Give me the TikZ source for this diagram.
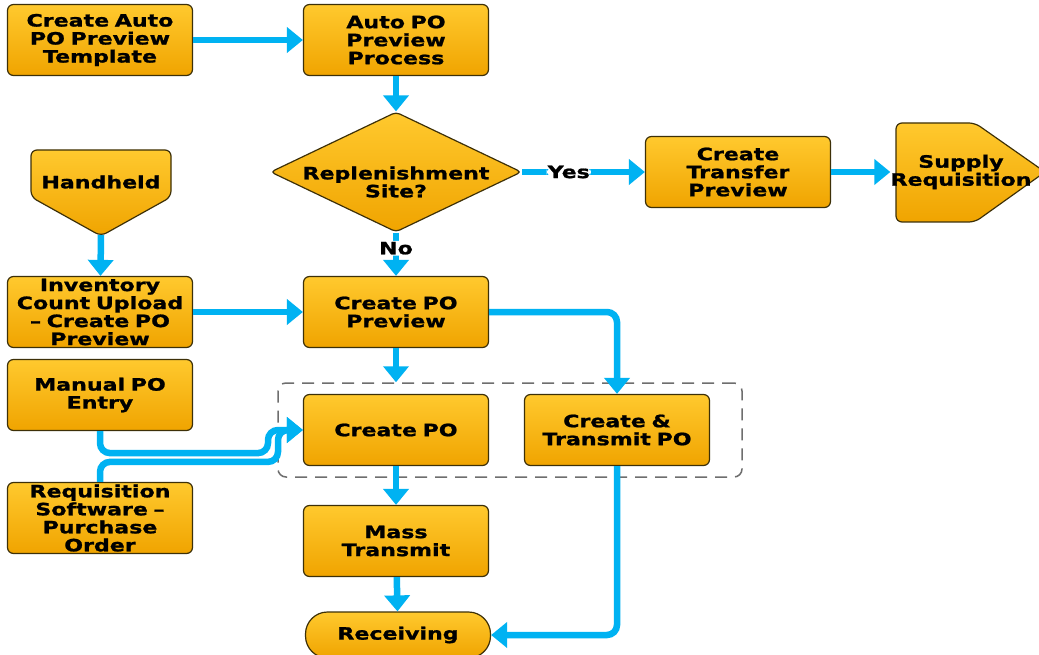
\documentclass[tikz,border=0pt]{standalone}
\usepackage{fontspec}
\setmainfont{DejaVu Sans}[FakeStretch=1.3, BoldFeatures={FakeBold=1.2}]
\usepackage{tikz}
\usetikzlibrary{shapes}
\usetikzlibrary{positioning}
\usetikzlibrary{arrows.meta}

\definecolor{boxtop}{HTML}{FFC92E}
\definecolor{boxbot}{HTML}{F0A400}
\definecolor{boxedge}{HTML}{3D3008}
\definecolor{flow}{HTML}{00B2F2}
\definecolor{grpedge}{HTML}{6E6E6E}

\newcommand{\boxfont}{\fontsize{17}{18}\selectfont\bfseries}

\tikzset{
  procbox/.style={draw=boxedge, line width=1.2pt, rounded corners=6pt,
    top color=boxtop, bottom color=boxbot, minimum width=185pt,
    minimum height=71pt, text width=182pt, align=center, inner sep=0pt,
    font=\boxfont},
  shapefill/.style={draw=boxedge, line width=1.2pt, rounded corners=6pt,
    top color=boxtop, bottom color=boxbot},
  flowline/.style={draw=flow, line width=6.5pt, rounded corners=10pt,
    -{Triangle[length=16pt,width=25pt]}},
  answer/.style={fill=white, inner sep=1pt, font=\boxfont},
}

\begin{document}
\begin{tikzpicture}[x=1pt, y=-1pt]
    \fill[white] (0,0) rectangle (1039,655);
    \useasboundingbox (0,0) rectangle (1039,655);

    % dashed group round the two create nodes
    \node (grp) at (510,430) [draw=grpedge, line width=1.5pt, rounded corners=8pt,
        dash pattern=on 12pt off 8pt, minimum width=464pt, minimum height=94pt] {};

    \node (capt) at (100,40) [procbox] {Create Auto\\PO Preview\\Template};
    \node (appp) at (396,40) [procbox] {Auto PO\\Preview\\Process};
    \node (rep) at (396,172) [shapefill, rounded corners=4pt, diamond,
        minimum width=251pt, minimum height=120pt, inner sep=0pt,
        label={[align=center, font=\boxfont, yshift=-10pt]center:Replenishment\\Site?}] {};
    \node (ctp) at (738,172) [procbox] {Create\\Transfer\\Preview};

    % pentagons drawn as paths, text on top
    \path[shapefill] (896,123) -- (975,123) -- (1045,172) -- (975,222) -- (896,222) -- cycle;
    \node (supply) at (961,172) [font=\boxfont, align=center, inner sep=0pt,
        minimum width=130pt, minimum height=99pt] {Supply\\Requisition};
    \path[shapefill] (31,150) -- (171,150) -- (171,197) -- (101,236) -- (31,197) -- cycle;
    \node (hh) at (101,182) [font=\boxfont] {Handheld};
    \coordinate (hhtip) at (101,235);

    \node (inv) at (100,312) [procbox] {Inventory\\Count Upload\\-- Create PO\\Preview};
    \node (cpp) at (396,312) [procbox] {Create PO\\Preview};
    \node (mpo) at (100,395) [procbox] {Manual PO\\Entry};
    \node (req) at (100,518) [procbox] {Requisition\\Software --\\Purchase\\Order};
    \node (cpo) at (396,430) [procbox] {Create PO};
    \node (ctpo) at (617,430) [procbox] {Create \&\\Transmit PO};
    \node (mass) at (396,541) [procbox] {Mass\\Transmit};
    \node (recv) at (398,635) [procbox, rounded corners=22pt, minimum height=46pt] {Receiving};

    \draw[flowline] (capt) -- (appp);
    \draw[flowline] (appp) -- (rep);
    \draw[flowline] (rep) -- node[answer, pos=0.38] {Yes} (ctp);
    \draw[flowline] (ctp) -- (supply.west);
    \draw[flowline] (rep) -- node[answer, pos=0.36] {No} (cpp);
    \draw[flowline] (hhtip) -- (inv);
    \draw[flowline] (inv) -- (cpp);
    \draw[flowline] (cpp.south) -- (cpp.south |- grp.north);
    \draw[flowline] (cpp.east) -| (ctpo.north);
    \draw[flowline] (mpo.south) -- ++(0,22) -| (268,430) -- (cpo.west);
    \draw[flowline] (req.north) -- ++(0,-20) -| (278,430) -- (cpo.west);
    \draw[flowline] (cpo) -- (mass);
    \draw[flowline] (mass) -- (recv);
    \draw[flowline] (ctpo.south) |- (recv.east);
\end{tikzpicture}
\end{document}
